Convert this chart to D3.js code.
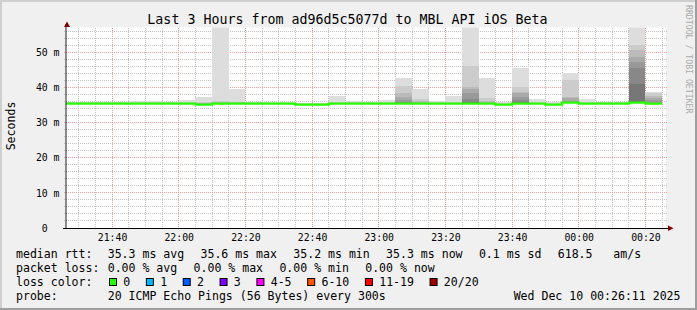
<!DOCTYPE html>
<html>
<head>
<meta charset="utf-8">
<script src="https://cdn.jsdelivr.net/npm/d3@7"></script>
<style>
  body { margin: 0; background: #fff; }
  svg text { font-family: "DejaVu Sans Mono", monospace; white-space: pre; }
</style>
</head>
<body>
<div id="container"></div>
<script>
  const width = 697;
  const height = 310;

  // 5 minute steps, start time of each step
  const slotTimes = [
    "21:25", "21:30", "21:35", "21:40", "21:45", "21:50", "21:55", "22:00", "22:05",
    "22:10", "22:15", "22:20", "22:25", "22:30", "22:35", "22:40", "22:45", "22:50",
    "22:55", "23:00", "23:05", "23:10", "23:15", "23:20", "23:25", "23:30", "23:35",
    "23:40", "23:45", "23:50", "23:55", "00:00", "00:05", "00:10", "00:15", "00:20"
  ];

  // median rtt per step (ms)
  const medianRtt = [
    35.4, 35.4, 35.4, 35.4, 35.4, 35.4, 35.4, 35.4, 35.1,
    35.4, 35.4, 35.4, 35.4, 35.4, 35.1, 35.1, 35.4, 35.4,
    35.4, 35.4, 35.4, 35.4, 35.4, 35.4, 35.4, 35.4, 35.1,
    35.4, 35.4, 35.1, 35.7, 35.4, 35.4, 35.4, 35.7, 35.4
  ];

  // lowest ping per step (ms)
  const minPing = [
    35.2, 35.2, 35.2, 35.2, 35.2, 35.2, 35.2, 35.2, 34.9,
    35.2, 35.2, 35.2, 35.2, 35.2, 34.9, 34.9, 35.2, 35.2,
    35.2, 35.2, 35.2, 35.2, 35.2, 35.2, 35.2, 35.2, 34.9,
    35.2, 35.2, 34.9, 35.5, 35.2, 35.2, 35.2, 35.5, 35.2
  ];

  // upper pings per step, slowest first (ping 20 .. ping 11), ms
  const upperPings = [
    [35.9, 35.8, 35.7, 35.6, 35.6, 35.5, 35.5, 35.5, 35.4, 35.4],
    [35.9, 35.8, 35.7, 35.6, 35.6, 35.5, 35.5, 35.5, 35.4, 35.4],
    [35.9, 35.8, 35.7, 35.6, 35.6, 35.5, 35.5, 35.5, 35.4, 35.4],
    [35.9, 35.8, 35.7, 35.6, 35.6, 35.5, 35.5, 35.5, 35.4, 35.4],
    [36.2, 35.9, 35.7, 35.6, 35.6, 35.5, 35.5, 35.5, 35.4, 35.4],
    [36.2, 35.9, 35.7, 35.6, 35.6, 35.5, 35.5, 35.5, 35.4, 35.4],
    [36.0, 35.8, 35.7, 35.6, 35.6, 35.5, 35.5, 35.5, 35.4, 35.4],
    [36.4, 35.9, 35.7, 35.6, 35.6, 35.5, 35.5, 35.5, 35.4, 35.4],
    [37.4, 35.8, 35.6, 35.5, 35.4, 35.3, 35.3, 35.2, 35.2, 35.1],
    [62.0, 36.1, 35.8, 35.7, 35.6, 35.5, 35.5, 35.5, 35.4, 35.4],
    [39.5, 36.0, 35.8, 35.7, 35.6, 35.5, 35.5, 35.5, 35.4, 35.4],
    [36.0, 35.8, 35.7, 35.6, 35.6, 35.5, 35.5, 35.5, 35.4, 35.4],
    [35.8, 35.7, 35.6, 35.6, 35.5, 35.5, 35.5, 35.4, 35.4, 35.4],
    [35.8, 35.7, 35.6, 35.6, 35.5, 35.5, 35.5, 35.4, 35.4, 35.4],
    [35.7, 35.5, 35.4, 35.3, 35.3, 35.2, 35.2, 35.2, 35.1, 35.1],
    [35.7, 35.5, 35.4, 35.3, 35.3, 35.2, 35.2, 35.2, 35.1, 35.1],
    [37.7, 35.9, 35.7, 35.6, 35.6, 35.5, 35.5, 35.5, 35.4, 35.4],
    [36.2, 35.8, 35.7, 35.6, 35.6, 35.5, 35.5, 35.5, 35.4, 35.4],
    [36.0, 35.8, 35.7, 35.6, 35.6, 35.5, 35.5, 35.5, 35.4, 35.4],
    [36.4, 35.9, 35.7, 35.6, 35.6, 35.5, 35.5, 35.5, 35.4, 35.4],
    [42.8, 40.4, 38.5, 37.4, 36.4, 35.9, 35.6, 35.6, 35.5, 35.5],
    [39.5, 36.8, 36.2, 35.9, 35.7, 35.6, 35.5, 35.5, 35.4, 35.4],
    [36.2, 35.8, 35.7, 35.6, 35.6, 35.5, 35.5, 35.5, 35.4, 35.4],
    [37.7, 35.9, 35.7, 35.6, 35.6, 35.5, 35.5, 35.5, 35.4, 35.4],
    [62.0, 46.1, 40.0, 39.6, 38.5, 36.8, 36.0, 35.6, 35.5, 35.5],
    [42.8, 37.1, 36.2, 35.9, 35.7, 35.6, 35.5, 35.5, 35.4, 35.4],
    [35.8, 35.5, 35.4, 35.3, 35.3, 35.2, 35.2, 35.2, 35.1, 35.1],
    [45.6, 40.0, 38.8, 38.3, 37.4, 36.4, 36.0, 35.6, 35.5, 35.5],
    [36.7, 35.9, 35.7, 35.6, 35.6, 35.5, 35.5, 35.5, 35.4, 35.4],
    [35.9, 35.5, 35.4, 35.3, 35.3, 35.2, 35.2, 35.2, 35.1, 35.1],
    [44.2, 42.1, 37.4, 36.9, 36.2, 36.0, 35.9, 35.8, 35.7, 35.7],
    [36.7, 35.9, 35.7, 35.6, 35.6, 35.5, 35.5, 35.5, 35.4, 35.4],
    [35.9, 35.8, 35.7, 35.6, 35.6, 35.5, 35.5, 35.5, 35.4, 35.4],
    [35.9, 35.8, 35.7, 35.6, 35.6, 35.5, 35.5, 35.5, 35.4, 35.4],
    [62.0, 52.1, 50.7, 48.7, 47.3, 45.6, 40.9, 35.9, 35.8, 35.7],
    [38.8, 38.4, 37.6, 36.9, 36.3, 35.7, 35.6, 35.5, 35.5, 35.4]
  ];

  const yTicks = [0, 10, 20, 30, 40, 50];
  const rttStats = ["35.3 ms avg", "35.6 ms max", "35.2 ms min", "35.3 ms now", "0.1 ms sd", "618.5   am/s"];
  const lossStats = ["0.00 % avg", "0.00 % max", "0.00 % min", "0.00 % now"];
  const lossLabels = ["0", "1", "2", "3", "4-5", "6-10", "11-19", "20/20"];
  const lossColors = ["#26ff00", "#00b8ff", "#0059ff", "#7e00ff", "#ff00ff", "#ff5500", "#ff0000", "#a00000"];

  const toDate = (s) => {
    const [h, m] = s.split(":").map(Number);
    return new Date(2025, 11, h < 12 ? 10 : 9, h, m);
  };
  const slots = slotTimes.map((s, i) => {
    const start = toDate(s);
    return { start, end: d3.timeMinute.offset(start, 5), median: medianRtt[i], low: minPing[i], up: upperPings[i] };
  });

  const t0 = new Date(2025, 11, 9, 21, 26, 11);
  const t1 = new Date(2025, 11, 10, 0, 26, 11);
  const plotL = 66, plotR = 666, plotT = 27.5, plotB = 228;

  const x = d3.scaleTime().domain([t0, t1]).range([plotL, plotR]);
  const y = d3.scaleLinear().domain([0, 57.06]).range([plotB, plotT]);

  const svg = d3.create("svg").attr("width", width).attr("height", height);

  // canvas + shade border
  svg.append("rect").attr("width", width).attr("height", height).attr("fill", "#f0f0f0");
  svg.append("rect").attr("width", width).attr("height", 2).attr("fill", "#cfcfcf");
  svg.append("rect").attr("width", 2).attr("height", height).attr("fill", "#cfcfcf");
  svg.append("rect").attr("y", height - 2).attr("width", width).attr("height", 2).attr("fill", "#9e9e9e");
  svg.append("rect").attr("x", width - 2).attr("width", 2).attr("height", height).attr("fill", "#9e9e9e");

  svg.append("rect").attr("x", plotL).attr("y", plotT).attr("width", plotR - plotL).attr("height", plotB - plotT).attr("fill", "#fff");

  svg.append("clipPath").attr("id", "plot")
    .append("rect").attr("x", plotL).attr("y", plotT).attr("width", plotR - plotL).attr("height", plotB - plotT);

  // grid (under the smoke)
  const grid = svg.append("g").attr("shape-rendering", "crispEdges").attr("stroke-dasharray", "1,1");
  const minorX = d3.timeMinute.every(5).range(t0, t1).filter(d => d.getMinutes() % 20 !== 0);
  const majorX = d3.timeMinute.every(20).range(t0, t1);
  const minorY = d3.range(2, 57, 2).filter(v => v % 10 !== 0);
  grid.selectAll(".vminor").data(minorX).join("line")
    .attr("x1", d => x(d)).attr("x2", d => x(d)).attr("y1", plotT).attr("y2", plotB + 2)
    .attr("stroke", "#c2c2c2");
  grid.selectAll(".hminor").data(minorY).join("line")
    .attr("x1", plotL - 2).attr("x2", plotR + 1).attr("y1", d => y(d)).attr("y2", d => y(d))
    .attr("stroke", "#c2c2c2");
  grid.selectAll(".vmajor").data(majorX).join("line")
    .attr("x1", d => x(d)).attr("x2", d => x(d)).attr("y1", plotT).attr("y2", plotB + 2)
    .attr("stroke", "#f09a9a");
  grid.selectAll(".hmajor").data(yTicks.slice(1)).join("line")
    .attr("x1", plotL - 2).attr("x2", plotR + 1).attr("y1", d => y(d)).attr("y2", d => y(d))
    .attr("stroke", "#f09a9a");

  // smoke: outer band lightest, inner bands darker
  const smoke = svg.append("g").attr("clip-path", "url(#plot)").attr("shape-rendering", "crispEdges");
  d3.range(10).forEach(k => {
    const g = 221 - 17 * k;
    smoke.append("g").selectAll("rect").data(slots).join("rect")
      .attr("x", d => x(d.start))
      .attr("width", d => x(d.end) - x(d.start))
      .attr("y", d => y(d.up[k]))
      .attr("height", d => Math.max(0, y(d.low) - y(d.up[k])))
      .attr("fill", d3.rgb(g, g, g));
  });

  // median line
  const pts = slots.map(d => [d.start, d.median]);
  pts.push([slots[slots.length - 1].end, slots[slots.length - 1].median]);
  svg.append("path")
    .attr("clip-path", "url(#plot)")
    .attr("d", d3.line().x(d => x(d[0])).y(d => y(d[1])).curve(d3.curveStepAfter)(pts))
    .attr("fill", "none").attr("stroke", lossColors[0]).attr("stroke-width", 2.2);

  // axes lines + arrows
  svg.append("line").attr("x1", plotL).attr("x2", plotL).attr("y1", plotB + 0.5).attr("y2", 24)
    .attr("stroke", "#222");
  svg.append("line").attr("x1", plotL - 3).attr("x2", 670).attr("y1", plotB).attr("y2", plotB)
    .attr("stroke", "#000").attr("shape-rendering", "crispEdges");
  svg.append("path").attr("d", "M67,21.5L64,27L70,27Z").attr("fill", "#7f0000");
  svg.append("path").attr("d", "M673.5,228.2L668,225.5L668,231Z").attr("fill", "#7f0000");

  // tick labels
  const xAxis = svg.append("g").attr("transform", `translate(0,${plotB})`)
    .call(d3.axisBottom(x).tickValues(majorX).tickFormat(d3.timeFormat("%H:%M")).tickSize(0).tickPadding(5.6));
  const yAxis = svg.append("g").attr("transform", `translate(${plotL},0)`)
    .call(d3.axisLeft(y).tickValues(yTicks).tickFormat(d => d === 0 ? "0  " : d + " m").tickSize(0).tickPadding(6.5));
  [xAxis, yAxis].forEach(a => {
    a.select(".domain").remove();
    a.selectAll("text").attr("font-family", "DejaVu Sans Mono").attr("font-size", 9.8).attr("fill", "#000");
  });

  // title and side labels
  svg.append("text").attr("x", 347.5).attr("y", 24).attr("text-anchor", "middle")
    .attr("font-size", 13.3).text("Last 3 Hours from ad96d5c5077d to MBL API iOS Beta");
  svg.append("text").attr("transform", "translate(15,126) rotate(-90)").attr("text-anchor", "middle")
    .attr("font-size", 11.55).text("Seconds");
  svg.append("text").attr("transform", "translate(685.5,5) rotate(90)")
    .attr("font-size", 8.2).attr("fill", "#aaaaaa").text("RRDTOOL / TOBI OETIKER");

  // legend
  const cw = 6.954, fs = 11.55, col = 107.7, gap = 16.3;
  const leg = svg.append("g").attr("font-size", fs).attr("fill", "#000");
  const row = (label, yy) => leg.append("text").attr("x", 16).attr("y", yy).text(label);
  const items = (list, yy) => {
    let xx = col;
    list.forEach(s => {
      leg.append("text").attr("x", xx).attr("y", yy).text(s);
      xx += s.length * cw + gap;
    });
  };
  row("median rtt:", 258); items(rttStats, 258);
  row("packet loss:", 272); items(lossStats, 272);
  row("loss color:", 286);
  let bx = 109;
  lossLabels.forEach((s, i) => {
    leg.append("rect").attr("x", bx + 0.5).attr("y", 278.5).attr("width", 7).attr("height", 7)
      .attr("fill", lossColors[i]).attr("stroke", "#000");
    leg.append("text").attr("x", bx + 14.3).attr("y", 286).text(s);
    bx += 14.3 + s.length * cw + 15.6;
  });
  row("probe:", 300);
  leg.append("text").attr("x", col).attr("y", 300).text("20 ICMP Echo Pings (56 Bytes) every 300s");
  leg.append("text").attr("x", 680.5).attr("y", 300).attr("text-anchor", "end").text("Wed Dec 10 00:26:11 2025");

  document.getElementById("container").appendChild(svg.node());
</script>
</body>
</html>
